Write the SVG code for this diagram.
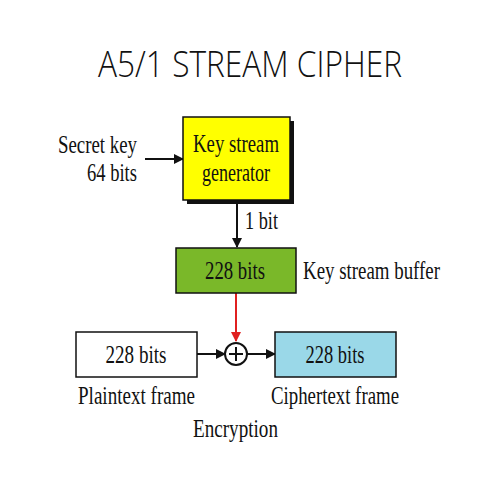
<svg xmlns="http://www.w3.org/2000/svg" width="500" height="500" viewBox="0 0 500 500">
<defs>
<style>
.t{font-family:"Liberation Serif","Times New Roman",serif;font-size:25px;fill:#111}
.box{stroke:#111;stroke-width:1.5}
.ln{stroke:#111;stroke-width:2;fill:none}
</style>
<marker id="ah" viewBox="0 0 10 10" refX="9" refY="5" markerWidth="10" markerHeight="10" markerUnits="userSpaceOnUse" orient="auto">
<path d="M0,0 L10,5 L0,10 Z" fill="#111"/>
</marker>
<marker id="ahr" viewBox="0 0 10 10" refX="9" refY="5" markerWidth="10" markerHeight="10" markerUnits="userSpaceOnUse" orient="auto">
<path d="M0,0 L10,5 L0,10 Z" fill="#e02020"/>
</marker>
</defs>
<rect width="500" height="500" fill="#fff"/>
<text x="250" y="77" text-anchor="middle" font-family="'Open Sans','Liberation Sans',Arial,sans-serif" font-weight="300" font-size="36" fill="#111" textLength="304" lengthAdjust="spacingAndGlyphs">A5/1 STREAM CIPHER</text>

<g id="connectors">
<line class="ln" x1="145" y1="159" x2="183" y2="159" marker-end="url(#ah)"/>
<line class="ln" x1="237" y1="200" x2="237" y2="247" marker-end="url(#ah)"/>
<line x1="236" y1="293" x2="236" y2="341" stroke="#e02020" stroke-width="2" marker-end="url(#ahr)"/>
<line class="ln" x1="197" y1="354" x2="225" y2="354" marker-end="url(#ah)"/>
<line class="ln" x1="247" y1="354" x2="275" y2="354" marker-end="url(#ah)"/>
</g>

<g id="secret-key">
<text class="t" x="137" y="153" text-anchor="end" textLength="79" lengthAdjust="spacingAndGlyphs">Secret key</text>
<text class="t" x="137" y="181" text-anchor="end" textLength="50" lengthAdjust="spacingAndGlyphs">64 bits</text>
</g>

<g id="generator">
<rect x="187" y="121" width="107" height="83" fill="#111"/>
<rect class="box" x="183" y="117" width="107" height="83" fill="#ffff00"/>
<text class="t" x="236" y="152" text-anchor="middle" textLength="86" lengthAdjust="spacingAndGlyphs">Key stream</text>
<text class="t" x="236" y="181" text-anchor="middle" textLength="68" lengthAdjust="spacingAndGlyphs">generator</text>
</g>

<g id="one-bit">
<text class="t" x="245" y="229" textLength="33" lengthAdjust="spacingAndGlyphs">1 bit</text>
</g>

<g id="buffer">
<rect class="box" x="176" y="248" width="120" height="45" fill="#7ab829"/>
<text class="t" x="235" y="279" text-anchor="middle" textLength="60" lengthAdjust="spacingAndGlyphs">228 bits</text>
<text class="t" x="303" y="279" textLength="137" lengthAdjust="spacingAndGlyphs">Key stream buffer</text>
</g>

<g id="plaintext">
<rect class="box" x="76" y="332" width="121" height="45" fill="#fff"/>
<text class="t" x="136" y="363" text-anchor="middle" textLength="61" lengthAdjust="spacingAndGlyphs">228 bits</text>
<text class="t" x="78" y="404" textLength="117" lengthAdjust="spacingAndGlyphs">Plaintext frame</text>
</g>

<g id="xor">
<circle cx="236" cy="354" r="11" fill="#fff" stroke="#111" stroke-width="2"/>
<line class="ln" x1="229" y1="354" x2="243" y2="354"/>
<line class="ln" x1="236" y1="347" x2="236" y2="361"/>
<text class="t" x="193" y="437" textLength="85" lengthAdjust="spacingAndGlyphs">Encryption</text>
</g>

<g id="ciphertext">
<rect class="box" x="275" y="332" width="121" height="45" fill="#9ad8e8"/>
<text class="t" x="335" y="363" text-anchor="middle" textLength="59" lengthAdjust="spacingAndGlyphs">228 bits</text>
<text class="t" x="271" y="404" textLength="128" lengthAdjust="spacingAndGlyphs">Ciphertext frame</text>
</g>
</svg>
